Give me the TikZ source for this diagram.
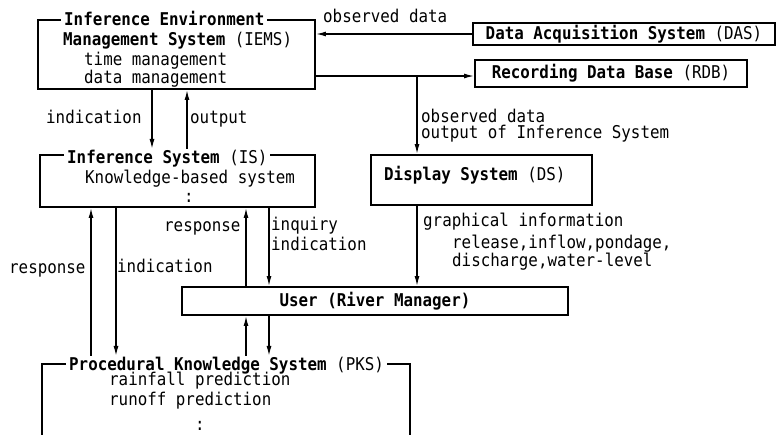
\documentclass[tikz,border=0pt]{standalone}
\usepackage{fontspec}
\setmainfont[FakeStretch=0.9]{DejaVu Sans Mono}
\usetikzlibrary{arrows.meta}
\newcommand\dfont{\fontsize{17.6pt}{21pt}\selectfont}

\begin{document}
\begin{tikzpicture}[x=1pt,y=-1pt,
  box/.style={draw,line width=1.8pt,inner sep=0pt,font=\dfont\bfseries},
  boxtitle/.style={fill=white,inner xsep=3pt,inner ysep=0.5pt,text depth=1pt,anchor=base west,font=\dfont\bfseries},
  txt/.style={inner sep=0pt,anchor=base west,font=\dfont},
  btxt/.style={txt,font=\dfont\bfseries},
  flow/.style={line width=1.4pt,-{Latex[length=10pt,width=5pt]}},
]
\clip (0,0) rectangle (781,434);
\fill[white] (0,0) rectangle (781,434);

% system boxes
\node[box,minimum width=277pt,minimum height=69pt] (iems) at (176.5,54.5) {};
\node[box,minimum width=302pt,minimum height=22pt] (das) at (624,34) {Data Acquisition System \mdseries(DAS)};
\node[box,minimum width=272pt,minimum height=27pt] (rdb) at (611,73.5) {Recording Data Base \mdseries(RDB)};
\node[box,minimum width=221pt,minimum height=50pt] (ds) at (481.5,180) {};
\node[box,minimum width=275pt,minimum height=52pt] (is) at (177.5,181) {};
\node[box,minimum width=386pt,minimum height=28pt] (user) at (375,301) {User (River Manager)};
\node[box,minimum width=368pt,minimum height=100pt,anchor=north] (pks) at (226,363) {};

% titles set into the top borders
\node[boxtitle] (iemsT) at (61,25) {Inference Environment};
\node[boxtitle] (isT) at (64,163) {Inference System \mdseries(IS)};
\node[boxtitle] (pksT) at (66,370) {Procedural Knowledge System \mdseries(PKS)};

% box contents
\node[btxt] (iemsN) at (63,45) {Management System \mdseries(IEMS)};
\node[txt] (iemsA) at (84,65) {time management};
\node[txt] (iemsB) at (84,83) {data management};
\node[btxt] (dsT) at (384,180) {Display System \mdseries(DS)};
\node[txt] (isA) at (85,183) {Knowledge-based system};
\node[txt] (isB) at (184,202) {:};
\node[txt] (pksA) at (109,385) {rainfall prediction};
\node[txt] (pksB) at (109,405) {runoff prediction};
\node[txt] (pksC) at (195,430) {:};

% connector labels
\node[txt] (l1) at (323,22) {observed data};
\node[txt] (l2) at (46,123) {indication};
\node[txt] (l3) at (190,123) {output};
\node[txt] (l4) at (421,122) {observed data};
\node[txt] (l5) at (421,138) {output of Inference System};
\node[txt] (l6) at (164,231) {response};
\node[txt] (l7) at (271,230) {inquiry};
\node[txt] (l8) at (271,250) {indication};
\node[txt] (l9) at (9,273) {response};
\node[txt] (l10) at (117,272) {indication};
\node[txt] (l11) at (423,226) {graphical information};
\node[txt] (l12) at (452,248) {release,inflow,pondage,};
\node[txt] (l13) at (452,266) {discharge,water-level};

% vertical connector positions
\coordinate (xA) at (91,0);
\coordinate (xB) at (116,0);
\coordinate (xC) at (152,0);
\coordinate (xD) at (187,0);
\coordinate (xE) at (246,0);
\coordinate (xF) at (269,0);
\coordinate (tap) at (417,76);

% connectors
\draw[flow] (das.west) -- (das.west -| iems.east);
\draw[flow] (tap -| iems.east) -- (tap -| rdb.west);
\draw[flow] (tap) -- (tap |- ds.north);
\draw[flow] (tap |- ds.south) -- (tap |- user.north);
\draw[flow] (xC |- iems.south) -- (xC |- isT.north);
\draw[flow] (xD |- isT.north) -- (xD |- iems.south);
\draw[flow] (xA |- pksT.north) -- (xA |- is.south);
\draw[flow] (xB |- is.south) -- (xB |- pksT.north);
\draw[flow] (xE |- user.north) -- (xE |- is.south);
\draw[flow] (xF |- is.south) -- (xF |- user.north);
\draw[flow] (xE |- pksT.north) -- (xE |- user.south);
\draw[flow] (xF |- user.south) -- (xF |- pksT.north);
\end{tikzpicture}
\end{document}
